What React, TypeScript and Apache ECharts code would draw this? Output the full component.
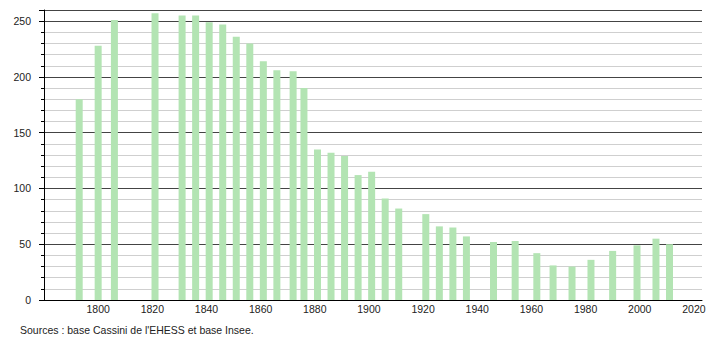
import React, { useEffect, useRef } from "react";
import * as echarts from "echarts";

const years = [1793, 1800, 1806, 1821, 1831, 1836, 1841, 1846, 1851, 1856, 1861, 1866, 1872, 1876, 1881, 1886, 1891, 1896, 1901, 1906, 1911, 1921, 1926, 1931, 1936, 1946, 1954, 1962, 1968, 1975, 1982, 1990, 1999, 2006, 2011];
const population = [180, 228, 251, 257, 255, 255, 249, 247, 236, 230, 214, 206, 205, 190, 135, 132, 129, 112, 115, 91, 82, 77, 66, 65, 57, 52, 53, 42, 31, 30, 36, 44, 49, 55, 50];
const sourceText = "Sources : base Cassini de l'EHESS et base Insee.";

export default function App() {
  const ref = useRef<HTMLDivElement>(null);
  useEffect(() => {
    if (!ref.current) return;
    const chart = echarts.init(ref.current, null, { renderer: "svg" });
    const font = "Liberation Sans, Arial, sans-serif";
    chart.setOption({
      animation: false,
      grid: { left: 44, top: 10, right: 8, bottom: 40 },
      xAxis: {
        type: "value",
        min: 1780,
        max: 2023,
        interval: 20,
        axisLine: { show: true, lineStyle: { color: "#000", width: 1 } },
        axisTick: { show: false },
        splitLine: { show: false },
        axisLabel: {
          color: "#222",
          fontFamily: font,
          fontSize: 10.5,
          margin: 3,
          showMinLabel: false,
          formatter: (v: number) => (v % 20 === 0 && v > 1780 ? String(v) : ""),
        },
      },
      yAxis: {
        type: "value",
        min: 0,
        max: 260,
        interval: 50,
        axisLine: { show: true, lineStyle: { color: "#000", width: 1 } },
        axisTick: { show: true, length: 5, lineStyle: { color: "#000" } },
        minorTick: { show: true, splitNumber: 5, length: 3, lineStyle: { color: "#000" } },
        splitLine: { show: true, lineStyle: { color: "#444", width: 1 } },
        minorSplitLine: { show: true, lineStyle: { color: "#cfcfcf", width: 1 } },
        axisLabel: {
          color: "#222",
          fontFamily: font,
          fontSize: 10.5,
          margin: 13,
          showMaxLabel: false,
          formatter: (v: number) => (v % 50 === 0 ? String(v) : ""),
        },
      },
      series: [
        {
          type: "bar",
          barWidth: 7,
          itemStyle: { color: "#b3e4b3" },
          data: years.map((y, i) => [y, population[i]]),
          z: 3,
        },
      ],
      graphic: [
        {
          type: "text",
          left: 20,
          top: 324,
          style: { text: sourceText, fill: "#222", font: `10.5px ${font}` },
        },
      ],
    });
    return () => chart.dispose();
  }, []);
  return <div ref={ref} style={{ width: 710, height: 340, position: "absolute", left: 0, top: 0 }} />;
}
